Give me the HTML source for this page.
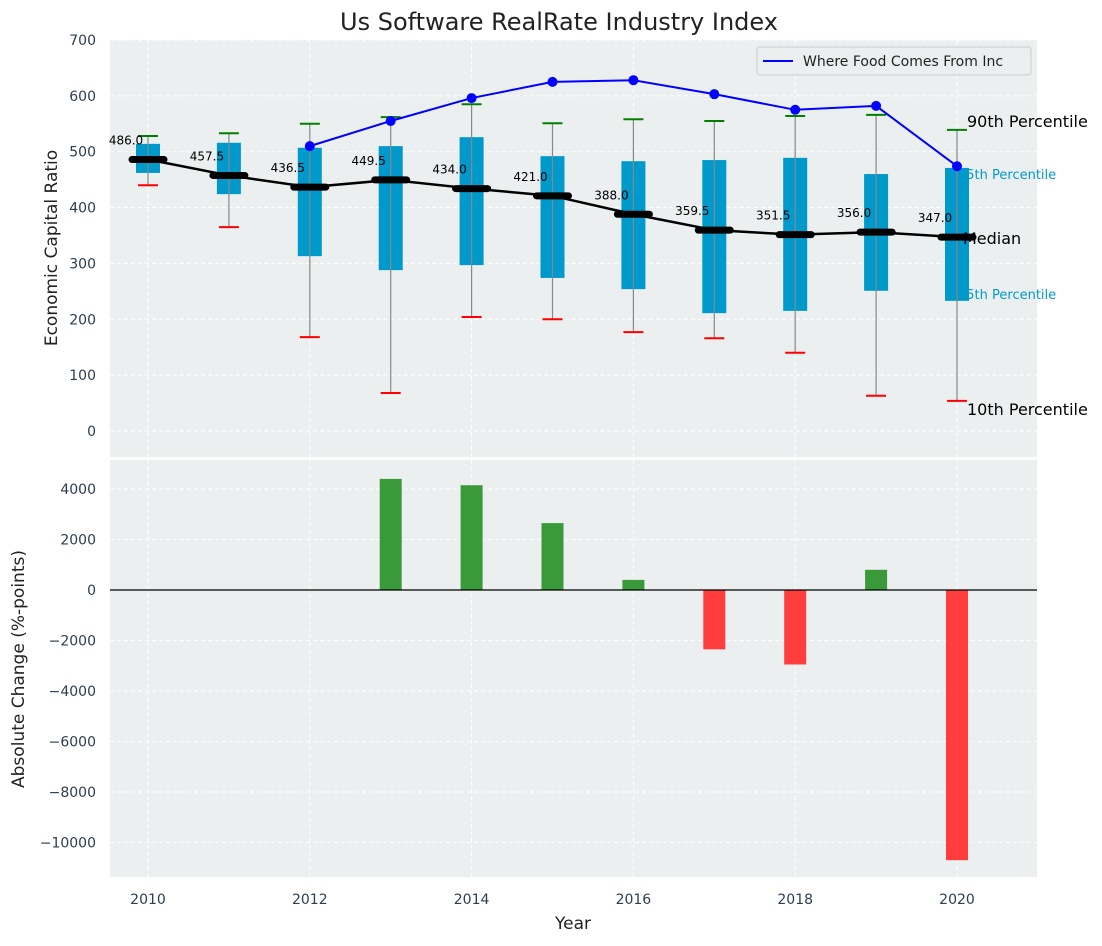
<!DOCTYPE html>
<html><head><meta charset="utf-8"><style>
body{margin:0;background:#fff;font-family:"DejaVu Sans","Liberation Sans",sans-serif}
</style></head><body>
<svg id="c" width="1102" height="942" xmlns="http://www.w3.org/2000/svg" font-family="DejaVu Sans, Liberation Sans, sans-serif"></svg>
<script>
const years=[2010,2011,2012,2013,2014,2015,2016,2017,2018,2019,2020];
const medians=[486.0,457.5,436.5,449.5,434.0,421.0,388.0,359.5,351.5,356.0,347.0];
const q25=[462,424,313,288,297,274,254,211,215,251,233];
const q75=[514,516,507,510,526,492,483,485,489,460,471];
const p10=[440,365,168,68,204,200,177,166,140,63,54];
const p90=[528,533,550,562,585,551,558,555,564,566,539];
const lineYears=[2012,2013,2014,2015,2016,2017,2018,2019,2020];
const lineVals=[510,555,596,625,628,603,575,582,474];
const barYears=[2013,2014,2015,2016,2017,2018,2019,2020];
const barVals=[4400,4150,2650,400,-2350,-2950,800,-10700];
const topTicks=[0,100,200,300,400,500,600,700];
const botTicks=[4000,2000,0,-2000,-4000,-6000,-8000,-10000];
const xTicks=[2010,2012,2014,2016,2018,2020];

const svg=document.getElementById('c');const NS='http://www.w3.org/2000/svg';
function el(t,a,p){const e=document.createElementNS(NS,t);for(const k in a)e.setAttribute(k,a[k]);(p||svg).appendChild(e);return e;}
const L=110,R=1037,T1=40,B1=457,T2=460,B2=877;
const x=v=>148+(v-2010)*80.9;
const y1=v=>431-v*0.5586;
const y2=v=>590-v*0.02525;
const fmtNum=v=>(v<0?'\u2212':'')+Math.abs(v);

let g=el('rect',{x:L,y:T1,width:R-L,height:B1-T1,fill:'#ebeff0'});

g=el('rect',{x:L,y:T2,width:R-L,height:B2-T2,fill:'#ebeff0'});

xTicks.forEach(t=>{[[T1,B1],[T2,B2]].forEach(r=>el('line',{x1:x(t),x2:x(t),y1:r[0],y2:r[1],stroke:'#fff','stroke-dasharray':'4,3','stroke-width':1}));});
topTicks.forEach(t=>{el('line',{x1:L,x2:R,y1:y1(t),y2:y1(t),stroke:'#fff','stroke-dasharray':'4,3'});
 const tx=el('text',{x:96,y:y1(t)+5,'text-anchor':'end','font-size':14,fill:'#2c3e50'});tx.textContent=t;
 });
botTicks.forEach(t=>{el('line',{x1:L,x2:R,y1:y2(t),y2:y2(t),stroke:'#fff','stroke-dasharray':'4,3'});
 const tx=el('text',{x:96,y:y2(t)+5,'text-anchor':'end','font-size':14,fill:'#2c3e50'});tx.textContent=fmtNum(t);
 });
xTicks.forEach(t=>{const tx=el('text',{x:x(t),y:904,'text-anchor':'middle','font-size':14,fill:'#2c3e50'});tx.textContent=t;
 });

// cyan annotations (behind boxes)
const ax=x(2020);
[['75th Percentile',179],['25th Percentile',299]].forEach(a=>{
 const t=el('text',{x:ax+1,y:a[1],'font-size':13,fill:'#0099cc'});t.textContent=a[0];
 });

years.forEach((yr,i)=>{const cx=x(yr);
 let b=el('rect',{x:cx-12,y:y1(q75[i]),width:24,height:y1(q25[i])-y1(q75[i]),fill:'#0099cc'});
 
 el('line',{x1:cx,x2:cx,y1:y1(p90[i]),y2:y1(p10[i]),stroke:'#888','stroke-width':1.2});
 el('line',{x1:cx-10,x2:cx+10,y1:y1(p90[i]),y2:y1(p90[i]),stroke:'green','stroke-width':2});
 el('line',{x1:cx-10,x2:cx+10,y1:y1(p10[i]),y2:y1(p10[i]),stroke:'red','stroke-width':2});
});
el('polyline',{points:years.map((yr,i)=>x(yr)+','+y1(medians[i])).join(' '),fill:'none',stroke:'#000','stroke-width':2.5});
years.forEach((yr,i)=>{const cx=x(yr);
 const m=el('line',{x1:cx-16,x2:cx+16,y1:y1(medians[i]),y2:y1(medians[i]),stroke:'#000','stroke-width':7,'stroke-linecap':'round'});
 
 const t=el('text',{x:cx-22,y:y1(medians[i])-15,'text-anchor':'middle','font-size':12,fill:'#000'});t.textContent=medians[i].toFixed(1);
 });
el('polyline',{points:lineYears.map((yr,i)=>x(yr)+','+y1(lineVals[i])).join(' '),fill:'none',stroke:'blue','stroke-width':2});
lineYears.forEach((yr,i)=>{const c=el('circle',{cx:x(yr),cy:y1(lineVals[i]),r:5,fill:'blue'});
 });
[['90th Percentile',ax+10,127],['Median',ax+6,244],['10th Percentile',ax+10,415]].forEach(a=>{
 const t=el('text',{x:a[1],y:a[2],'font-size':16,fill:'#000'});t.textContent=a[0];
 });
const lg=el('g',{});
el('rect',{x:757,y:47,width:274,height:28,fill:'#ebeff0',stroke:'#ccc',rx:3},lg);
el('line',{x1:763,x2:793,y1:61,y2:61,stroke:'blue','stroke-width':2},lg);
const lt=el('text',{x:803,y:66,'font-size':14,fill:'#222'},lg);lt.textContent='Where Food Comes From Inc';
barYears.forEach((yr,i)=>{const v=barVals[i];const r=el('rect',{x:x(yr)-11,y:Math.min(y2(v),y2(0)),width:22,height:Math.abs(y2(v)-y2(0)),fill:v>=0?'#3a9a3a':'#ff3d3d'});
 });
el('line',{x1:L,x2:R,y1:y2(0),y2:y2(0),stroke:'#000','stroke-width':1.2});
let t=el('text',{x:559,y:30,'text-anchor':'middle','font-size':24,fill:'#222'});t.textContent='Us Software RealRate Industry Index';

t=el('text',{x:573,y:929,'text-anchor':'middle','font-size':17,fill:'#222'});t.textContent='Year';

t=el('text',{x:57,y:248,'text-anchor':'middle','font-size':17,fill:'#222',transform:'rotate(-90 57 248)'});t.textContent='Economic Capital Ratio';

t=el('text',{x:24,y:669,'text-anchor':'middle','font-size':17,fill:'#222',transform:'rotate(-90 24 669)'});t.textContent='Absolute Change (%-points)';

</script>
</body></html>
